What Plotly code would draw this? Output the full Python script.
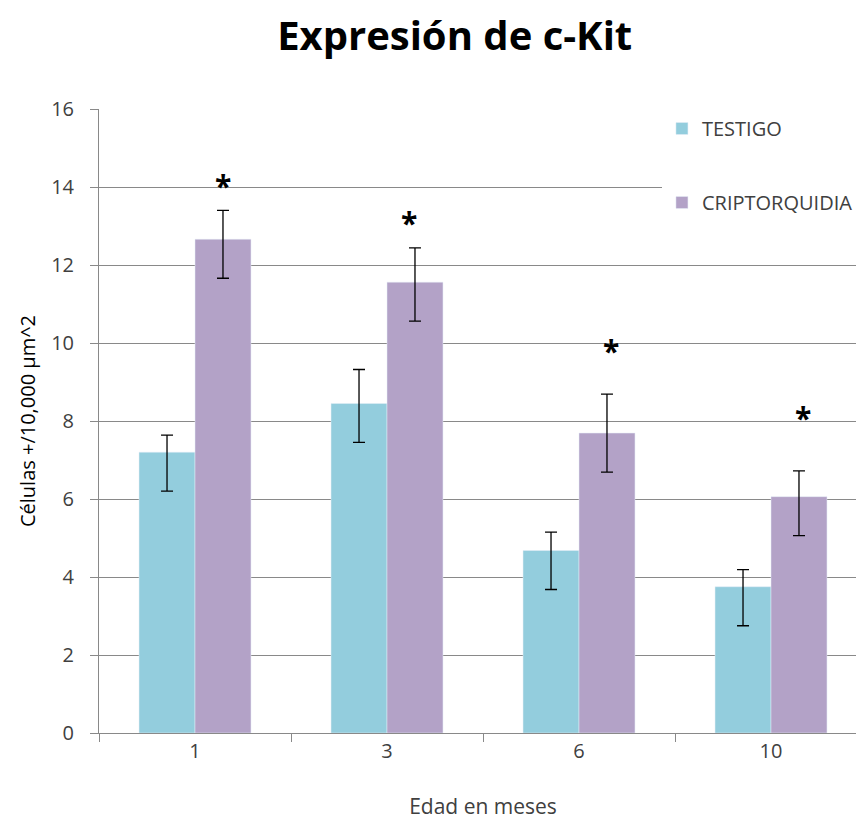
import plotly.graph_objects as go

categories = ["1", "3", "6", "10"]
testigo = [7.2, 8.45, 4.68, 3.75]
testigo_plus = [0.44, 0.87, 0.47, 0.44]
testigo_minus = [1.0, 1.0, 1.0, 1.0]
cripto = [12.66, 11.56, 7.69, 6.06]
cripto_plus = [0.74, 0.88, 1.0, 0.66]
cripto_minus = [1.0, 1.0, 1.0, 1.0]
star_y = [14.1, 13.15, 9.87, 8.15]
star_shift = [28, 22, 32, 32]
yticks = [0, 2, 4, 6, 8, 10, 12, 14, 16]

FONT = "Open Sans"
GRAY = "#898989"
TXT = "#404040"

fig = go.Figure()
fig.add_trace(go.Bar(
    name="TESTIGO", x=categories, y=testigo, marker_color="#93CDDD",
    legendgroup="a",
    error_y=dict(type="data", symmetric=False, array=testigo_plus,
                 arrayminus=testigo_minus, color="#000000", thickness=1.3, width=6),
))
fig.add_trace(go.Bar(
    name="CRIPTORQUIDIA", x=categories, y=cripto, marker_color="#B3A2C7",
    legendgroup="b",
    error_y=dict(type="data", symmetric=False, array=cripto_plus,
                 arrayminus=cripto_minus, color="#000000", thickness=1.3, width=6),
))

for i, (yv, sh) in enumerate(zip(star_y, star_shift)):
    fig.add_annotation(x=i, y=yv, text="<b>*</b>", showarrow=False,
                       xshift=sh, yshift=-2, yanchor="middle",
                       font=dict(family=FONT, size=30, color="#000000"))

fig.update_layout(
    width=864, height=823,
    margin=dict(l=91, r=5, t=101, b=98),
    paper_bgcolor="white", plot_bgcolor="white",
    barmode="group", bargap=0.417, bargroupgap=0,
    title=dict(text="<b>Expresión de c-Kit</b>", x=0.517, xanchor="center",
               xref="container", y=0.966, yanchor="middle",
               font=dict(family=FONT, size=40, color="#000000")),
    legend=dict(x=0.733, xanchor="left", y=1.0, yanchor="top",
                bgcolor="white", tracegroupgap=45, traceorder="grouped",
                font=dict(family=FONT, size=20, color=TXT),
                itemwidth=30),
    showlegend=True,
)
fig.update_xaxes(
    type="category", range=[-0.5, 3.5],
    showline=True, linecolor=GRAY, linewidth=1,
    ticks="outside", tickson="boundaries", ticklen=8, tickcolor=GRAY,
    tickfont=dict(family=FONT, size=20, color=TXT),
    title=dict(text="Edad en meses", font=dict(family=FONT, size=21, color=TXT),
               standoff=36),
    showgrid=False,
)
fig.update_yaxes(
    range=[0, 16], tickvals=yticks,
    showline=True, linecolor=GRAY, linewidth=1,
    ticks="outside", ticklen=8, tickcolor=GRAY,
    ticklabelstandoff=12,
    showgrid=True, gridcolor=GRAY, gridwidth=1,
    tickfont=dict(family=FONT, size=20, color=TXT),
    title=dict(text="Células +/10,000 µm^2", font=dict(family=FONT, size=20, color="#000000"),
               standoff=10),
    zeroline=False,
)

fig.write_html("out.html")
